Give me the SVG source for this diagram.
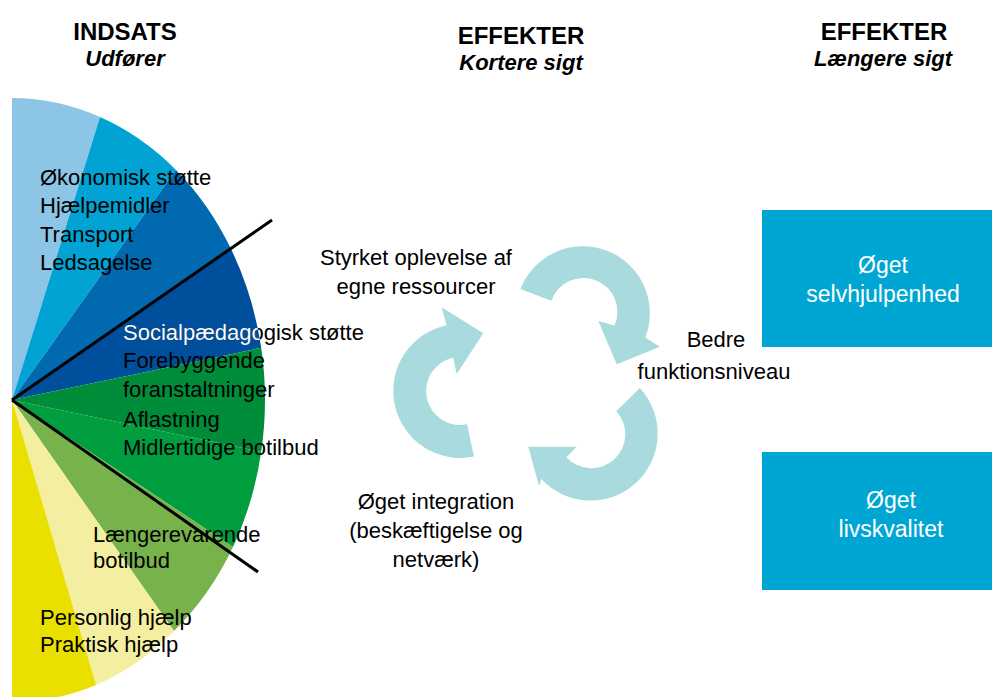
<svg xmlns="http://www.w3.org/2000/svg" width="992" height="697" viewBox="0 0 992 697">
<style>
.h{font-family:"Liberation Sans",Arial,sans-serif;font-weight:bold;font-size:24px;fill:#000;text-anchor:middle}
.hi{font-family:"Liberation Sans",Arial,sans-serif;font-weight:bold;font-style:italic;font-size:22px;fill:#000;text-anchor:middle}
.t{font-family:"Liberation Sans",Arial,sans-serif;font-size:22px;fill:#000}
.tc{font-family:"Liberation Sans",Arial,sans-serif;font-size:22px;fill:#000;text-anchor:middle}
.bt{font-family:"Liberation Sans",Arial,sans-serif;font-size:23px;fill:#fff;text-anchor:middle}
.cyc{fill:#A9DADD}
.box{fill:#00A6D3}
.div{stroke:#000;stroke-width:3;fill:none}
</style>
<defs>
<clipPath id="darkblue"><path d="M12,400 L231,249 A253,302 0 0,1 261.2,347.8 Z"/></clipPath>
</defs>
<rect width="992" height="697" fill="#fff"/>

<g id="headers">
<text class="h" x="125" y="40">INDSATS</text>
<text class="hi" x="125" y="66">Udfører</text>
<text class="h" x="521" y="44">EFFEKTER</text>
<text class="hi" x="521" y="70">Kortere sigt</text>
<text class="h" x="884" y="40">EFFEKTER</text>
<text class="hi" x="883" y="66">Længere sigt</text>
</g>

<g id="indsats">
<path fill="#8DC5E6" d="M12,400 L12,98 A253,302 0 0,1 100,117 Z"/>
<path fill="#00A3D4" d="M12,400 L100,117 A253,302 0 0,1 176,170 Z"/>
<path fill="#0069AF" d="M12,400 L176,170 A253,302 0 0,1 231,249 Z"/>
<path fill="#004F9C" d="M12,400 L231,249 A253,302 0 0,1 261.2,347.8 Z"/>
<path fill="#008D3A" d="M12,400 L261.2,347.8 A253,302 0 0,1 261.2,451.8 Z"/>
<path fill="#009E3E" d="M12,400 L261.2,451.8 A253,302 0 0,1 233,547 Z"/>
<path fill="#77B24B" d="M12,400 L233,547 A253,302 0 0,1 174,631 Z"/>
<path fill="#F4EEA0" d="M12,400 L174,631 A253,302 0 0,1 96,685 Z"/>
<path fill="#E9E000" d="M12,400 L96,685 A253,302 0 0,1 12,702 Z"/>
<path class="div" d="M12,400 L272,220"/>
<path class="div" d="M12,400 L258,572"/>
<text class="t" x="40" y="185">Økonomisk støtte</text>
<text class="t" x="40" y="213.3">Hjælpemidler</text>
<text class="t" x="40" y="241.7">Transport</text>
<text class="t" x="40" y="270">Ledsagelse</text>
<text class="t" x="123" y="340">Socialpædagogisk støtte</text>
<text class="t" x="123" y="340" clip-path="url(#darkblue)" style="fill:#fff">Socialpædagogisk støtte</text>
<text class="t" x="123" y="368.3">Forebyggende</text>
<text class="t" x="123" y="396.7">foranstaltninger</text>
<text class="t" x="123" y="426.7">Aflastning</text>
<text class="t" x="123" y="455">Midlertidige botilbud</text>
<text class="t" x="93" y="541.7">Længerevarende</text>
<text class="t" x="93" y="568.3">botilbud</text>
<text class="t" x="40" y="625">Personlig hjælp</text>
<text class="t" x="40" y="651.7">Praktisk hjælp</text>
</g>

<g id="connectors">
<path class="cyc" d="M520.4,289 A67,67 0 1,1 645.3,337.6 L660,346.7 L616.7,364.3 L598.3,321 L614.6,325.5 A34,34 0 1,0 551.3,300.8 Z"/>
<path class="cyc" d="M639.8,388 A67,67 0 1,1 541.4,479 L539,486 L528.3,446.7 L576.7,446.7 L566.3,457.3 A34,34 0 1,0 616.3,411.2 Z"/>
<path class="cyc" d="M473.9,456.5 A67,67 0 1,1 446.6,325.3 L441.7,307.3 L483.3,333.3 L456.7,374 L453.2,357.7 A34,34 0 1,0 467.1,424.3 Z"/>
</g>

<g id="effekt-ressourcer">
<text class="tc" x="416" y="265">Styrket oplevelse af</text>
<text class="tc" x="416" y="293.5">egne ressourcer</text>
</g>
<g id="effekt-funktionsniveau">
<text class="tc" x="716" y="347">Bedre</text>
<text class="tc" x="714" y="379">funktionsniveau</text>
</g>
<g id="effekt-integration">
<text class="tc" x="436" y="509">Øget integration</text>
<text class="tc" x="436" y="538">(beskæftigelse og</text>
<text class="tc" x="436" y="567">netværk)</text>
</g>

<g id="selvhjulpenhed">
<rect class="box" x="762" y="210" width="230" height="137"/>
<text class="bt" x="883" y="273">Øget</text>
<text class="bt" x="883" y="302">selvhjulpenhed</text>
</g>
<g id="livskvalitet">
<rect class="box" x="762" y="452" width="230" height="138"/>
<text class="bt" x="891" y="508">Øget</text>
<text class="bt" x="891" y="537">livskvalitet</text>
</g>
</svg>
